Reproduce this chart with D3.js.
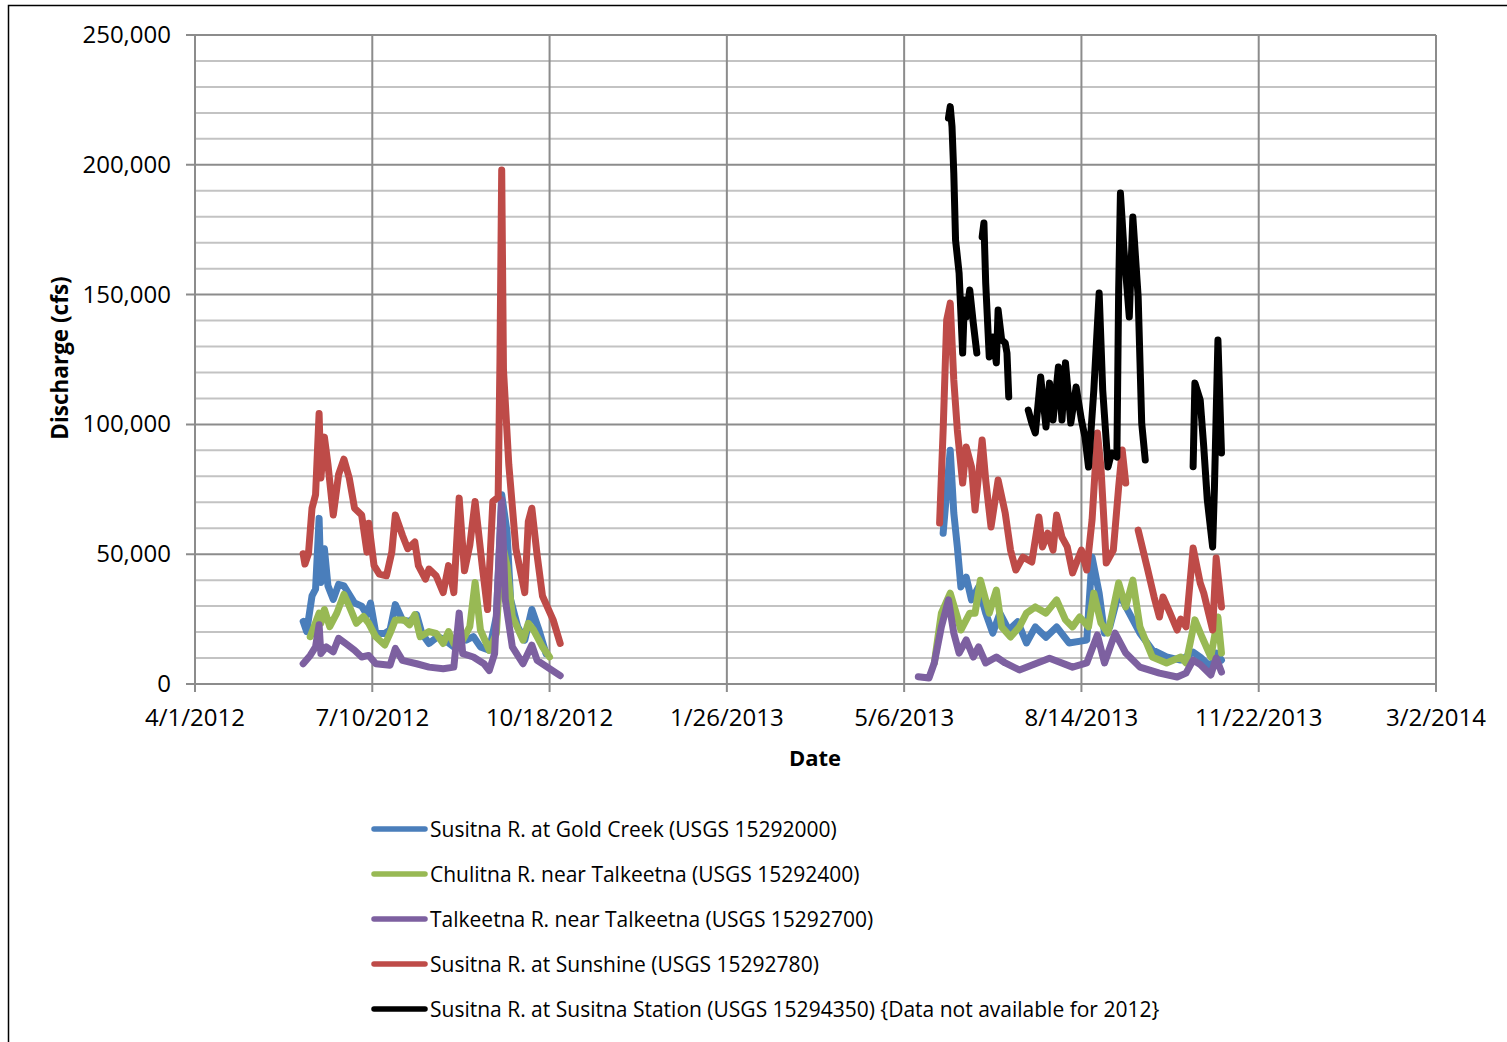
<!DOCTYPE html>
<html>
<head>
<meta charset="utf-8">
<script src="https://cdn.jsdelivr.net/npm/d3@7"></script>
<style>
  body { margin: 0; background: #fff; }
  svg { display: block; font-family: 'Open Sans', sans-serif; }
</style>
</head>
<body>
<svg id="chart" width="1507" height="1042"></svg>
<script>
// series values [date, cfs], null marks a gap in the record
const goldCreek = [
  ['2012-06-01', 24100], ['2012-06-03', 20200], ['2012-06-06', 33900], ['2012-06-08', 36500], ['2012-06-10', 63800],
  ['2012-06-11', 39100], ['2012-06-13', 52100], ['2012-06-15', 37800], ['2012-06-18', 32600], ['2012-06-21', 38400],
  ['2012-06-24', 37800], ['2012-06-30', 31200], ['2012-07-04', 30000], ['2012-07-07', 26700], ['2012-07-09', 31200],
  ['2012-07-12', 19500], ['2012-07-17', 19500], ['2012-07-20', 20800], ['2012-07-23', 30600], ['2012-07-27', 24700],
  ['2012-07-31', 24100], ['2012-08-04', 26700], ['2012-08-07', 19500], ['2012-08-11', 15600], ['2012-08-16', 18300],
  ['2012-08-20', 16900], ['2012-08-25', 14300], ['2012-08-28', 20200], ['2012-09-01', 16900], ['2012-09-05', 18300],
  ['2012-09-09', 14300], ['2012-09-14', 13000], ['2012-09-18', 26000], ['2012-09-21', 72900], ['2012-09-24', 58600],
  ['2012-09-26', 32600], ['2012-09-30', 22100], ['2012-10-04', 16900], ['2012-10-08', 28700], ['2012-10-12', 20800],
  ['2012-10-16', 11700],
  ['2013-01-01', null],
  ['2013-05-28', 58100], ['2013-06-01', 90000], ['2013-06-03', 65900], ['2013-06-05', 52800], ['2013-06-07', 37400],
  ['2013-06-10', 41200], ['2013-06-13', 32400], ['2013-06-17', 37400], ['2013-06-21', 27300], ['2013-06-25', 19600],
  ['2013-06-29', 27300], ['2013-07-04', 20800], ['2013-07-09', 24000], ['2013-07-14', 15800], ['2013-07-19', 22000],
  ['2013-07-25', 18000], ['2013-07-31', 22000], ['2013-08-07', 15800], ['2013-08-17', 16900], ['2013-08-20', 48900],
  ['2013-08-24', 35000], ['2013-08-27', 19600], ['2013-08-30', 22000], ['2013-09-04', 35000], ['2013-09-10', 27300],
  ['2013-09-16', 19600], ['2013-09-23', 13100], ['2013-10-01', 10400], ['2013-10-09', 9200], ['2013-10-16', 12300],
  ['2013-10-20', 10400], ['2013-10-26', 6500], ['2013-10-29', 11900], ['2013-11-01', 9200],
]

const chulitna = [
  ['2012-06-05', 18200], ['2012-06-10', 27300], ['2012-06-11', 23400], ['2012-06-13', 28700], ['2012-06-16', 22100],
  ['2012-06-20', 27300], ['2012-06-24', 34500], ['2012-06-27', 30000], ['2012-07-01', 23400], ['2012-07-05', 26000],
  ['2012-07-08', 23400], ['2012-07-12', 18200], ['2012-07-17', 15000], ['2012-07-20', 19500], ['2012-07-23', 24700],
  ['2012-07-28', 24700], ['2012-07-31', 22800], ['2012-08-03', 26700], ['2012-08-06', 18200], ['2012-08-11', 20200],
  ['2012-08-15', 19500], ['2012-08-19', 15600], ['2012-08-22', 20200], ['2012-08-25', 15600], ['2012-08-30', 16900],
  ['2012-09-03', 22100], ['2012-09-06', 39100], ['2012-09-09', 20800], ['2012-09-14', 13000], ['2012-09-18', 19500],
  ['2012-09-21', 55000], ['2012-09-24', 45600], ['2012-09-27', 26000], ['2012-10-03', 16900], ['2012-10-06', 23400],
  ['2012-10-09', 20800], ['2012-10-14', 14300], ['2012-10-18', 10400],
  ['2013-01-01', null],
  ['2013-05-23', 8100], ['2013-05-27', 27300], ['2013-06-01', 35000], ['2013-06-05', 25800], ['2013-06-07', 20800],
  ['2013-06-12', 27300], ['2013-06-15', 27300], ['2013-06-18', 40000], ['2013-06-23', 27300], ['2013-06-27', 36200],
  ['2013-06-30', 22000], ['2013-07-05', 18100], ['2013-07-10', 22000], ['2013-07-14', 27300], ['2013-07-19', 29700],
  ['2013-07-25', 27300], ['2013-07-31', 32400], ['2013-08-05', 24700], ['2013-08-09', 22000], ['2013-08-13', 25800],
  ['2013-08-18', 22000], ['2013-08-21', 35000], ['2013-08-25', 23500], ['2013-08-29', 19600], ['2013-09-04', 38900],
  ['2013-09-08', 29700], ['2013-09-12', 40000], ['2013-09-16', 22000], ['2013-09-23', 10400], ['2013-10-01', 8100],
  ['2013-10-09', 10400], ['2013-10-12', 8100], ['2013-10-17', 24700], ['2013-10-21', 18100], ['2013-10-26', 10400],
  ['2013-10-30', 25800], ['2013-11-01', 11900],
]

const talkeetna = [
  ['2012-06-01', 7800], ['2012-06-05', 11000], ['2012-06-08', 14300], ['2012-06-10', 22800], ['2012-06-11', 11700],
  ['2012-06-14', 14300], ['2012-06-18', 12400], ['2012-06-21', 17600], ['2012-06-25', 15600], ['2012-06-30', 13000],
  ['2012-07-04', 10400], ['2012-07-08', 11000], ['2012-07-12', 7800], ['2012-07-20', 7200], ['2012-07-23', 13700],
  ['2012-07-27', 9100], ['2012-08-04', 7800], ['2012-08-11', 6500], ['2012-08-19', 5900], ['2012-08-25', 6500],
  ['2012-08-28', 27300], ['2012-08-30', 11700], ['2012-09-05', 10400], ['2012-09-11', 7800], ['2012-09-14', 5200],
  ['2012-09-17', 11700], ['2012-09-21', 71000], ['2012-09-23', 32600], ['2012-09-27', 14300], ['2012-10-03', 7800],
  ['2012-10-08', 15000], ['2012-10-11', 9100], ['2012-10-18', 5900], ['2012-10-24', 3200],
  ['2013-01-01', null],
  ['2013-05-14', 2800], ['2013-05-20', 2300], ['2013-05-23', 8100], ['2013-05-27', 22000], ['2013-05-31', 32400],
  ['2013-06-03', 19600], ['2013-06-06', 11900], ['2013-06-10', 17000], ['2013-06-14', 10400], ['2013-06-17', 14300],
  ['2013-06-21', 8100], ['2013-06-27', 10400], ['2013-07-02', 8100], ['2013-07-10', 5400], ['2013-07-27', 9900],
  ['2013-08-09', 6500], ['2013-08-17', 8100], ['2013-08-23', 18900], ['2013-08-27', 8100], ['2013-09-02', 19600],
  ['2013-09-08', 11900], ['2013-09-16', 6500], ['2013-09-27', 4200], ['2013-10-07', 2700], ['2013-10-12', 4200],
  ['2013-10-16', 9200], ['2013-10-20', 7500], ['2013-10-26', 3500], ['2013-10-29', 10000], ['2013-11-01', 4600],
]

const sunshine = [
  ['2012-06-01', 50200], ['2012-06-02', 46200], ['2012-06-04', 50200], ['2012-06-06', 67700], ['2012-06-08', 72900],
  ['2012-06-10', 104200], ['2012-06-11', 79400], ['2012-06-13', 95100], ['2012-06-15', 84600], ['2012-06-18', 65100],
  ['2012-06-21', 80700], ['2012-06-24', 86600], ['2012-06-27', 79400], ['2012-06-30', 67700], ['2012-07-04', 65100],
  ['2012-07-07', 50800], ['2012-07-08', 61900], ['2012-07-11', 45600], ['2012-07-14', 42300], ['2012-07-18', 41700],
  ['2012-07-21', 50800], ['2012-07-23', 65100], ['2012-07-27', 57300], ['2012-07-30', 52100], ['2012-08-03', 54700],
  ['2012-08-05', 45600], ['2012-08-09', 40400], ['2012-08-11', 44300], ['2012-08-15', 41700], ['2012-08-19', 35200],
  ['2012-08-22', 45600], ['2012-08-25', 35200], ['2012-08-28', 71600], ['2012-08-31', 43600], ['2012-09-03', 53400],
  ['2012-09-06', 70300], ['2012-09-10', 45600], ['2012-09-13', 28700], ['2012-09-16', 70300], ['2012-09-19', 72000],
  ['2012-09-20', 123700], ['2012-09-21', 198000], ['2012-09-22', 121100], ['2012-09-25', 84600], ['2012-09-29', 52100],
  ['2012-10-04', 35200], ['2012-10-06', 62500], ['2012-10-08', 67700], ['2012-10-11', 49500], ['2012-10-14', 33900],
  ['2012-10-20', 24700], ['2012-10-24', 15600],
  ['2013-01-01', null],
  ['2013-05-26', 62000], ['2013-05-28', 97800], ['2013-05-30', 140200], ['2013-06-01', 146700], ['2013-06-03', 117100],
  ['2013-06-05', 97800], ['2013-06-08', 77400], ['2013-06-10', 91300], ['2013-06-13', 83600], ['2013-06-15', 67000],
  ['2013-06-19', 94000], ['2013-06-21', 78600], ['2013-06-24', 60500], ['2013-06-28', 78600], ['2013-07-02', 65900],
  ['2013-07-05', 51600], ['2013-07-08', 43900], ['2013-07-12', 48900], ['2013-07-17', 47000], ['2013-07-21', 64300],
  ['2013-07-23', 52800], ['2013-07-26', 58100], ['2013-07-29', 51600], ['2013-07-31', 65100], ['2013-08-03', 56600],
  ['2013-08-06', 52800], ['2013-08-09', 42800], ['2013-08-14', 51600], ['2013-08-17', 43900], ['2013-08-20', 63200],
  ['2013-08-23', 96700], ['2013-08-25', 83600], ['2013-08-28', 46600], ['2013-09-01', 51600], ['2013-09-04', 75900],
  ['2013-09-06', 90100], ['2013-09-08', 77400],
  ['2013-09-10', null],
  ['2013-09-15', 59300], ['2013-09-20', 45100], ['2013-09-24', 33500], ['2013-09-27', 25800], ['2013-09-29', 33500],
  ['2013-10-03', 27300], ['2013-10-07', 20800], ['2013-10-09', 25000], ['2013-10-12', 22000], ['2013-10-16', 52400],
  ['2013-10-20', 38900], ['2013-10-22', 35000], ['2013-10-27', 20800], ['2013-10-29', 48500], ['2013-11-01', 29700],
]

const susitnaStation = [
  ['2013-05-31', 218000], ['2013-06-01', 222400], ['2013-06-02', 214700], ['2013-06-03', 196800], ['2013-06-04', 171000],
  ['2013-06-06', 158300], ['2013-06-08', 127500], ['2013-06-09', 147900], ['2013-06-10', 141400], ['2013-06-12', 151800],
  ['2013-06-14', 139000], ['2013-06-16', 127500],
  ['2013-06-17', null],
  ['2013-06-19', 172200], ['2013-06-20', 177600], ['2013-06-21', 154500], ['2013-06-23', 126000], ['2013-06-25', 133700],
  ['2013-06-27', 123700], ['2013-06-28', 144100], ['2013-06-30', 132500], ['2013-07-02', 131400], ['2013-07-03', 127500],
  ['2013-07-04', 110600],
  ['2013-07-05', null],
  ['2013-07-15', 105500], ['2013-07-17', 100500], ['2013-07-19', 96700], ['2013-07-22', 118300], ['2013-07-25', 99000],
  ['2013-07-27', 115900], ['2013-07-29', 101700], ['2013-08-01', 122100], ['2013-08-03', 101700], ['2013-08-05', 123700],
  ['2013-08-08', 100500], ['2013-08-11', 114400], ['2013-08-14', 101700], ['2013-08-16', 95100], ['2013-08-18', 83600],
  ['2013-08-21', 113300], ['2013-08-24', 150600], ['2013-08-26', 113300], ['2013-08-29', 83600], ['2013-08-31', 89000],
  ['2013-09-03', 87400], ['2013-09-04', 151800], ['2013-09-05', 189100], ['2013-09-07', 167200], ['2013-09-10', 141400],
  ['2013-09-12', 179900], ['2013-09-15', 149100], ['2013-09-17', 100500], ['2013-09-19', 86300],
  ['2013-09-20', null],
  ['2013-10-16', 83700], ['2013-10-17', 115900], ['2013-10-20', 109400], ['2013-10-22', 91300], ['2013-10-24', 70900],
  ['2013-10-27', 52800], ['2013-10-28', 75000], ['2013-10-30', 132500], ['2013-11-01', 89000],
]

const seriesNames = [
  'Susitna R. at Gold Creek (USGS 15292000)',
  'Chulitna R. near Talkeetna (USGS 15292400)',
  'Talkeetna R. near Talkeetna (USGS 15292700)',
  'Susitna R. at Sunshine (USGS 15292780)',
  'Susitna R. at Susitna Station (USGS 15294350) {Data not available for 2012}',
]
const seriesColors = ['#4a7ebb', '#98b954', '#7d60a0', '#be4b48', '#000000']
const seriesData = [goldCreek, chulitna, talkeetna, sunshine, susitnaStation]

// axis ticks: every 100 days from the first date, every 50,000 cfs
const xStart = '2012-04-01'
const xTickCount = 8
const xTickStep = 100
const yMax = 250000
const yMajor = 50000
const yMinor = 10000

const parse = d3.utcParse('%Y-%m-%d')
const fmtDate = d3.utcFormat('%-m/%-d/%Y')
const fmtNum = d3.format(',')

const svg = d3.select('#chart')
const plot = {left: 195, right: 1436, top: 35, bottom: 684}

const xTicks = d3.range(xTickCount).map((i) => d3.utcDay.offset(parse(xStart), i * xTickStep))
const x = d3.scaleUtc().domain([xTicks[0], xTicks[xTicks.length - 1]]).range([plot.left, plot.right])
const y = d3.scaleLinear().domain([0, yMax]).range([plot.bottom, plot.top])

// outer chart frame
svg.append('rect')
  .attr('x', 8.5).attr('y', 5.5).attr('width', 1520).attr('height', 1060)
  .attr('fill', 'none').attr('stroke', '#000').attr('stroke-width', 1.5)

// minor horizontal gridlines
svg.append('g')
  .selectAll('line')
  .data(d3.range(yMinor, yMax, yMinor).filter((v) => v % yMajor !== 0))
  .join('line')
  .attr('x1', plot.left).attr('x2', plot.right)
  .attr('y1', (d) => y(d)).attr('y2', (d) => y(d))
  .attr('stroke', '#c3c3c3').attr('stroke-width', 2)

// major horizontal gridlines
svg.append('g')
  .selectAll('line')
  .data(d3.range(yMajor, yMax + 1, yMajor))
  .join('line')
  .attr('x1', plot.left - 9).attr('x2', plot.right)
  .attr('y1', (d) => y(d)).attr('y2', (d) => y(d))
  .attr('stroke', '#8c8c8c').attr('stroke-width', 2)

// vertical gridlines + ticks
svg.append('g')
  .selectAll('line')
  .data(xTicks)
  .join('line')
  .attr('x1', (d) => x(d)).attr('x2', (d) => x(d))
  .attr('y1', plot.top).attr('y2', plot.bottom + 8)
  .attr('stroke', '#8c8c8c').attr('stroke-width', 2)

// x axis baseline
svg.append('line')
  .attr('x1', plot.left - 9).attr('x2', plot.right)
  .attr('y1', plot.bottom).attr('y2', plot.bottom)
  .attr('stroke', '#8c8c8c').attr('stroke-width', 2)

// y tick labels
svg.append('g')
  .selectAll('text')
  .data(d3.range(0, yMax + 1, yMajor))
  .join('text')
  .attr('x', 171).attr('y', (d) => y(d) + 8)
  .attr('text-anchor', 'end')
  .attr('font-size', 24)
  .text((d) => fmtNum(d))

// x tick labels
svg.append('g')
  .selectAll('text')
  .data(xTicks)
  .join('text')
  .attr('x', (d) => x(d)).attr('y', 726)
  .attr('text-anchor', 'middle')
  .attr('font-size', 24)
  .text((d) => fmtDate(d))

// axis titles
svg.append('text')
  .attr('transform', 'translate(68, 358) rotate(-90)')
  .attr('text-anchor', 'middle')
  .attr('font-size', 22.5).attr('font-weight', 'bold')
  .text('Discharge (cfs)')

svg.append('text')
  .attr('x', 815).attr('y', 766)
  .attr('text-anchor', 'middle')
  .attr('font-size', 22).attr('font-weight', 'bold')
  .text('Date')

// series lines
const line = d3.line()
  .defined((d) => d[1] !== null)
  .x((d) => x(parse(d[0])))
  .y((d) => y(d[1]))

const clip = svg.append('clipPath').attr('id', 'plot-clip')
clip.append('rect').attr('x', plot.left).attr('y', 0).attr('width', plot.right - plot.left).attr('height', plot.bottom + 6)

svg.append('g')
  .attr('clip-path', 'url(#plot-clip)')
  .selectAll('path')
  .data(seriesData)
  .join('path')
  .attr('d', (d) => line(d))
  .attr('fill', 'none')
  .attr('stroke', (d, i) => seriesColors[i])
  .attr('stroke-width', 7)
  .attr('stroke-linejoin', 'round')
  .attr('stroke-linecap', 'round')

// legend
const legend = svg.append('g')
  .selectAll('g')
  .data(seriesNames)
  .join('g')
  .attr('transform', (d, i) => `translate(0, ${829 + i * 45})`)

legend.append('line')
  .attr('x1', 374).attr('x2', 425)
  .attr('stroke', (d, i) => seriesColors[i])
  .attr('stroke-width', 5.5)
  .attr('stroke-linecap', 'round')

legend.append('text')
  .attr('x', 430).attr('y', 8)
  .attr('font-size', 21)
  .text((d) => d)
</script>
</body>
</html>
